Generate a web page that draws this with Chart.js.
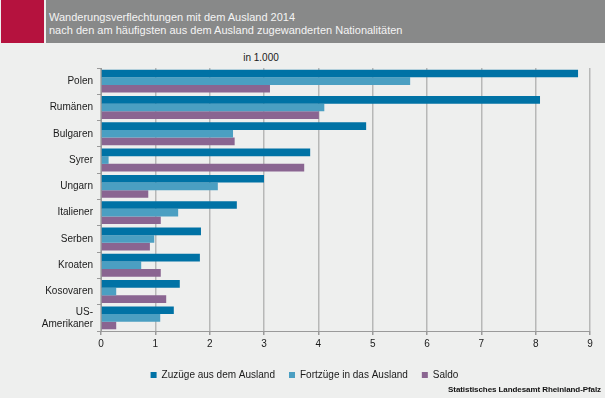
<!DOCTYPE html>
<html><head><meta charset="utf-8">
<script src="https://cdn.jsdelivr.net/npm/chart.js@4/dist/chart.umd.min.js"></script>
<style>
html,body{margin:0;padding:0;background:#eeefee;}
#wrap{position:relative;width:605px;height:398px;overflow:hidden;background:#eeefee;font-family:'Liberation Sans',Arial,sans-serif;}
#red{position:absolute;left:1px;top:0;width:43px;height:43px;background:#b5123e;}
#head{position:absolute;left:46px;top:0;width:559px;height:43px;background:#888989;}
#ttl{position:absolute;left:49px;top:11px;color:#f4f4f4;font-size:11px;line-height:13px;}
#unit{position:absolute;left:211px;width:100px;top:52px;text-align:center;color:#1a1a1a;font-size:10px;line-height:12px;}
#src{position:absolute;right:4px;top:385px;text-align:right;color:#111;font-size:8px;line-height:10px;font-weight:bold;letter-spacing:-0.08px;}
#cv{position:absolute;left:0;top:0;width:605px;height:398px;}
</style></head>
<body>
<div id="wrap">
<div id="red"></div><div id="head"></div>
<div id="ttl">Wanderungsverflechtungen mit dem Ausland 2014<br>nach den am häufigsten aus dem Ausland zugewanderten Nationalitäten</div>
<div id="unit">in 1.000</div>
<div id="cv"><canvas id="c"></canvas></div>
<div id="src">Statistisches Landesamt Rheinland-Pfalz</div>
</div>
<script>
const categories = ["Polen","Rumänen","Bulgaren","Syrer","Ungarn","Italiener","Serben","Kroaten","Kosovaren",["US-","Amerikaner"]];
const zuzuege  = [8.78, 8.08, 4.88, 3.85, 3.00, 2.50, 1.84, 1.82, 1.45, 1.34];
const fortzuege = [5.69, 4.11, 2.43, 0.14, 2.15, 1.42, 0.98, 0.74, 0.28, 1.09];
const saldo    = [3.11, 4.01, 2.46, 3.74, 0.87, 1.10, 0.90, 1.10, 1.20, 0.28];
const seriesNames = ["Zuzüge aus dem Ausland","Fortzüge in das Ausland","Saldo"];
const xTicks = [0,1,2,3,4,5,6,7,8,9];

Chart.defaults.font.family = "'Liberation Sans', Arial, sans-serif";
Chart.defaults.font.size = 10;
Chart.defaults.color = "#1a1a1a";

new Chart(document.getElementById('c'), {
  type: 'bar',
  data: {
    labels: categories,
    datasets: [
      {label: seriesNames[0], data: zuzuege, backgroundColor: '#0072a5'},
      {label: seriesNames[1], data: fortzuege, backgroundColor: '#4b9fc2'},
      {label: seriesNames[2], data: saldo, backgroundColor: '#8a6591'}
    ]
  },
  options: {
    indexAxis: 'y',
    responsive: true,
    maintainAspectRatio: false,
    animation: false,
    datasets: {bar: {categoryPercentage: 0.87, barPercentage: 1.0}},
    layout: {padding: {left: 4, right: 0, top: 68, bottom: 8}},
    scales: {
      x: {
        min: 0, max: 9,
        afterBuildTicks: (s) => { s.ticks = xTicks.map(v => ({value: v})); },
        ticks: {color: '#1a1a1a', font: {size: 10}, padding: 3},
        grid: {color: '#b7b8b7', lineWidth: 1.5, tickLength: 4, tickColor: '#9a9a9a'},
        border: {display: true, color: '#9a9a9a', width: 1},
        afterFit: (s) => { s.height = 25; }
      },
      y: {
        ticks: {color: '#1a1a1a', font: {size: 10}, padding: 4, autoSkip: false},
        grid: {drawOnChartArea: false, tickLength: 4, tickColor: '#9a9a9a', offset: true},
        border: {display: true, color: '#9a9a9a', width: 1},
        afterFit: (s) => { s.width = 97; }
      },
      y2: {
        type: 'category', position: 'right', display: true,
        ticks: {display: false},
        grid: {display: false, drawTicks: false},
        border: {display: false},
        afterFit: (s) => { s.width = 15; }
      }
    },
    plugins: {
      title: {display: false},
      legend: {position: 'bottom', labels: {boxWidth: 6, boxHeight: 6, padding: 14, color: '#1a1a1a', font: {size: 10}}},
      tooltip: {enabled: false}
    }
  }
});
</script>
</body></html>
